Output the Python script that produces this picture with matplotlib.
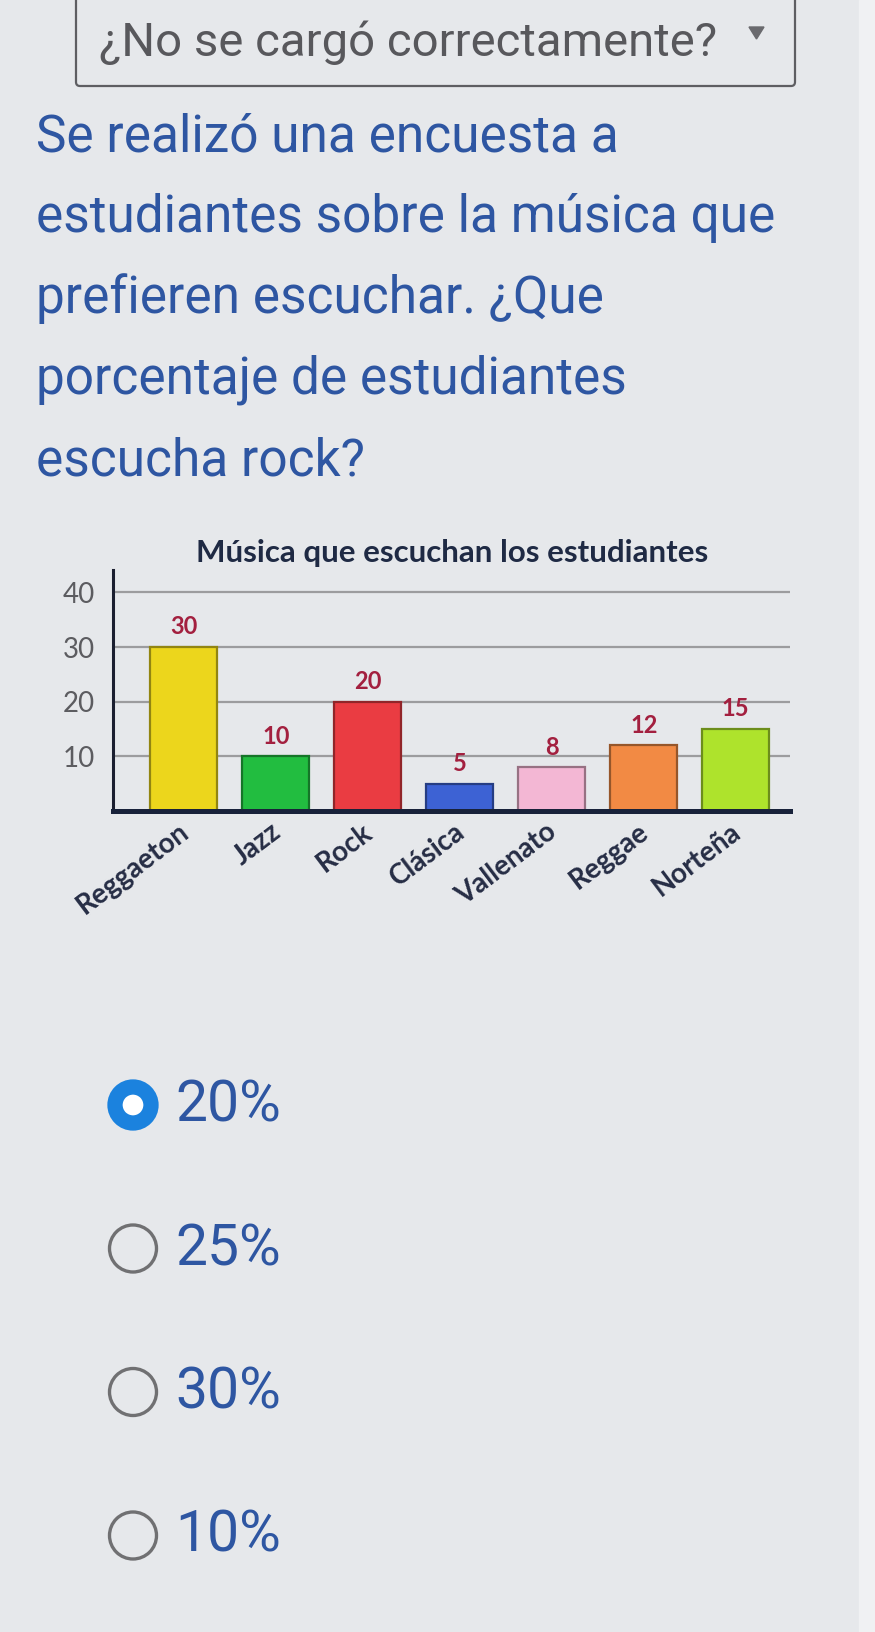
import matplotlib
matplotlib.use("Agg")
import matplotlib.pyplot as plt
import matplotlib.colors as mcolors
from matplotlib.patches import Rectangle, Circle, Polygon, FancyBboxPatch
from matplotlib.transforms import ScaledTranslation

# chart data
generos = ["Reggaeton", "Jazz", "Rock", "Clásica", "Vallenato", "Reggae", "Norteña"]
estudiantes = [30, 10, 20, 5, 8, 12, 15]
colores = ["#ecd61c", "#22bd40", "#ea3c42", "#3d62d4", "#f3b7d4", "#f28a44", "#aee32c"]
yticks = [10, 20, 30, 40]

pregunta = ["Se realizó una encuesta a",
            "estudiantes sobre la música que",
            "prefieren escuchar. ¿Que",
            "porcentaje de estudiantes",
            "escucha rock?"]
opciones = ["20%", "25%", "30%", "10%"]
seleccion = 0

AZUL = "#2e56a2"
W, H = 875, 1632
fig = plt.figure(figsize=(W / 100, H / 100), dpi=100)
fig.patch.set_facecolor("#e6e8eb")

# page layer, pixel coords (y down)
bg = fig.add_axes([0, 0, 1, 1])
bg.set_xlim(0, W)
bg.set_ylim(H, 0)
bg.axis("off")
bg.add_patch(Rectangle((0, 0), W, H, color="#e6e8eb", zorder=0))
bg.add_patch(Rectangle((859, 0), 16, H, color="#f0f1f3", zorder=0))

# dropdown box
bg.add_patch(FancyBboxPatch((76, -10), 719, 96, boxstyle="round,pad=0,rounding_size=4",
                            fill=False, ec="#5e5e62", lw=1.6))
bg.text(408, 43, "¿No se cargó correctamente?", fontsize=34, family="Roboto",
        color="#58585c", ha="center", va="center")
bg.add_patch(Polygon([[749, 27], [764, 27], [756.5, 39]], color="#6a6a6e"))

# question
y = 137
for linea in pregunta:
    bg.text(36, y, linea, fontsize=37, family="Roboto", color=AZUL,
            ha="left", va="center")
    y += 81

# radio options
y = 1105
for i, op in enumerate(opciones):
    if i == seleccion:
        bg.add_patch(Circle((133, y), 18, fc="white", ec="#1b82de", lw=11))
    else:
        bg.add_patch(Circle((133, y), 23.5, fc="none", ec="#707072", lw=2.4))
    bg.text(175, y + 1, op, fontsize=41, family="Roboto", color=AZUL,
            ha="left", va="center")
    y += 143.5

# bar chart
x0, x1 = 113, 790
ytop, ybot = 570, 811
ax = fig.add_axes([x0 / W, 1 - ybot / H, (x1 - x0) / W, (ybot - ytop) / H])
ax.set_facecolor("none")
pos = list(range(len(generos)))
bordes = [tuple(c * 0.62 for c in mcolors.to_rgb(col)) for col in colores]
ax.bar(pos, estudiantes, width=0.73, color=colores, edgecolor=bordes,
       linewidth=1.6, zorder=3)
for p, v in zip(pos, estudiantes):
    ax.text(p, v + 1.6, str(v), ha="center", va="bottom", fontsize=17,
            fontweight="bold", color="#a3203f", family="Lato", zorder=4)
ax.set_xlim(-0.77, 6.59)
ax.set_ylim(0, 44.1)
ax.set_yticks(yticks)
ax.set_yticklabels([str(t) for t in yticks], fontsize=20, color="#5c5c60",
                   family="Lato")
ax.tick_params(axis="y", length=0, pad=13)
ax.tick_params(axis="x", length=0, pad=0)
ax.grid(axis="y", color="#9c9c9e", lw=1.6, zorder=0)
ax.set_xticks(pos)
ax.set_xticklabels(generos, rotation=37, ha="right", va="center",
                   rotation_mode="anchor", fontsize=20, fontweight="bold",
                   color="#262d45", family="Lato")
for lab in ax.get_xticklabels():
    lab.set_transform(lab.get_transform() +
                      ScaledTranslation(0.02, -0.18, fig.dpi_scale_trans))
for s in ["top", "right"]:
    ax.spines[s].set_visible(False)
ax.spines["left"].set_color("#1b1f30")
ax.spines["left"].set_linewidth(2.2)
ax.spines["bottom"].set_color("#18223a")
ax.spines["bottom"].set_linewidth(3.6)
ax.spines["bottom"].set_zorder(5)

bg.text(452, 553, "Música que escuchan los estudiantes", fontsize=22.5,
        fontweight="bold", color="#1f2a44", family="Lato",
        ha="center", va="center")

fig.savefig("out.png", dpi=100, facecolor=fig.get_facecolor())
